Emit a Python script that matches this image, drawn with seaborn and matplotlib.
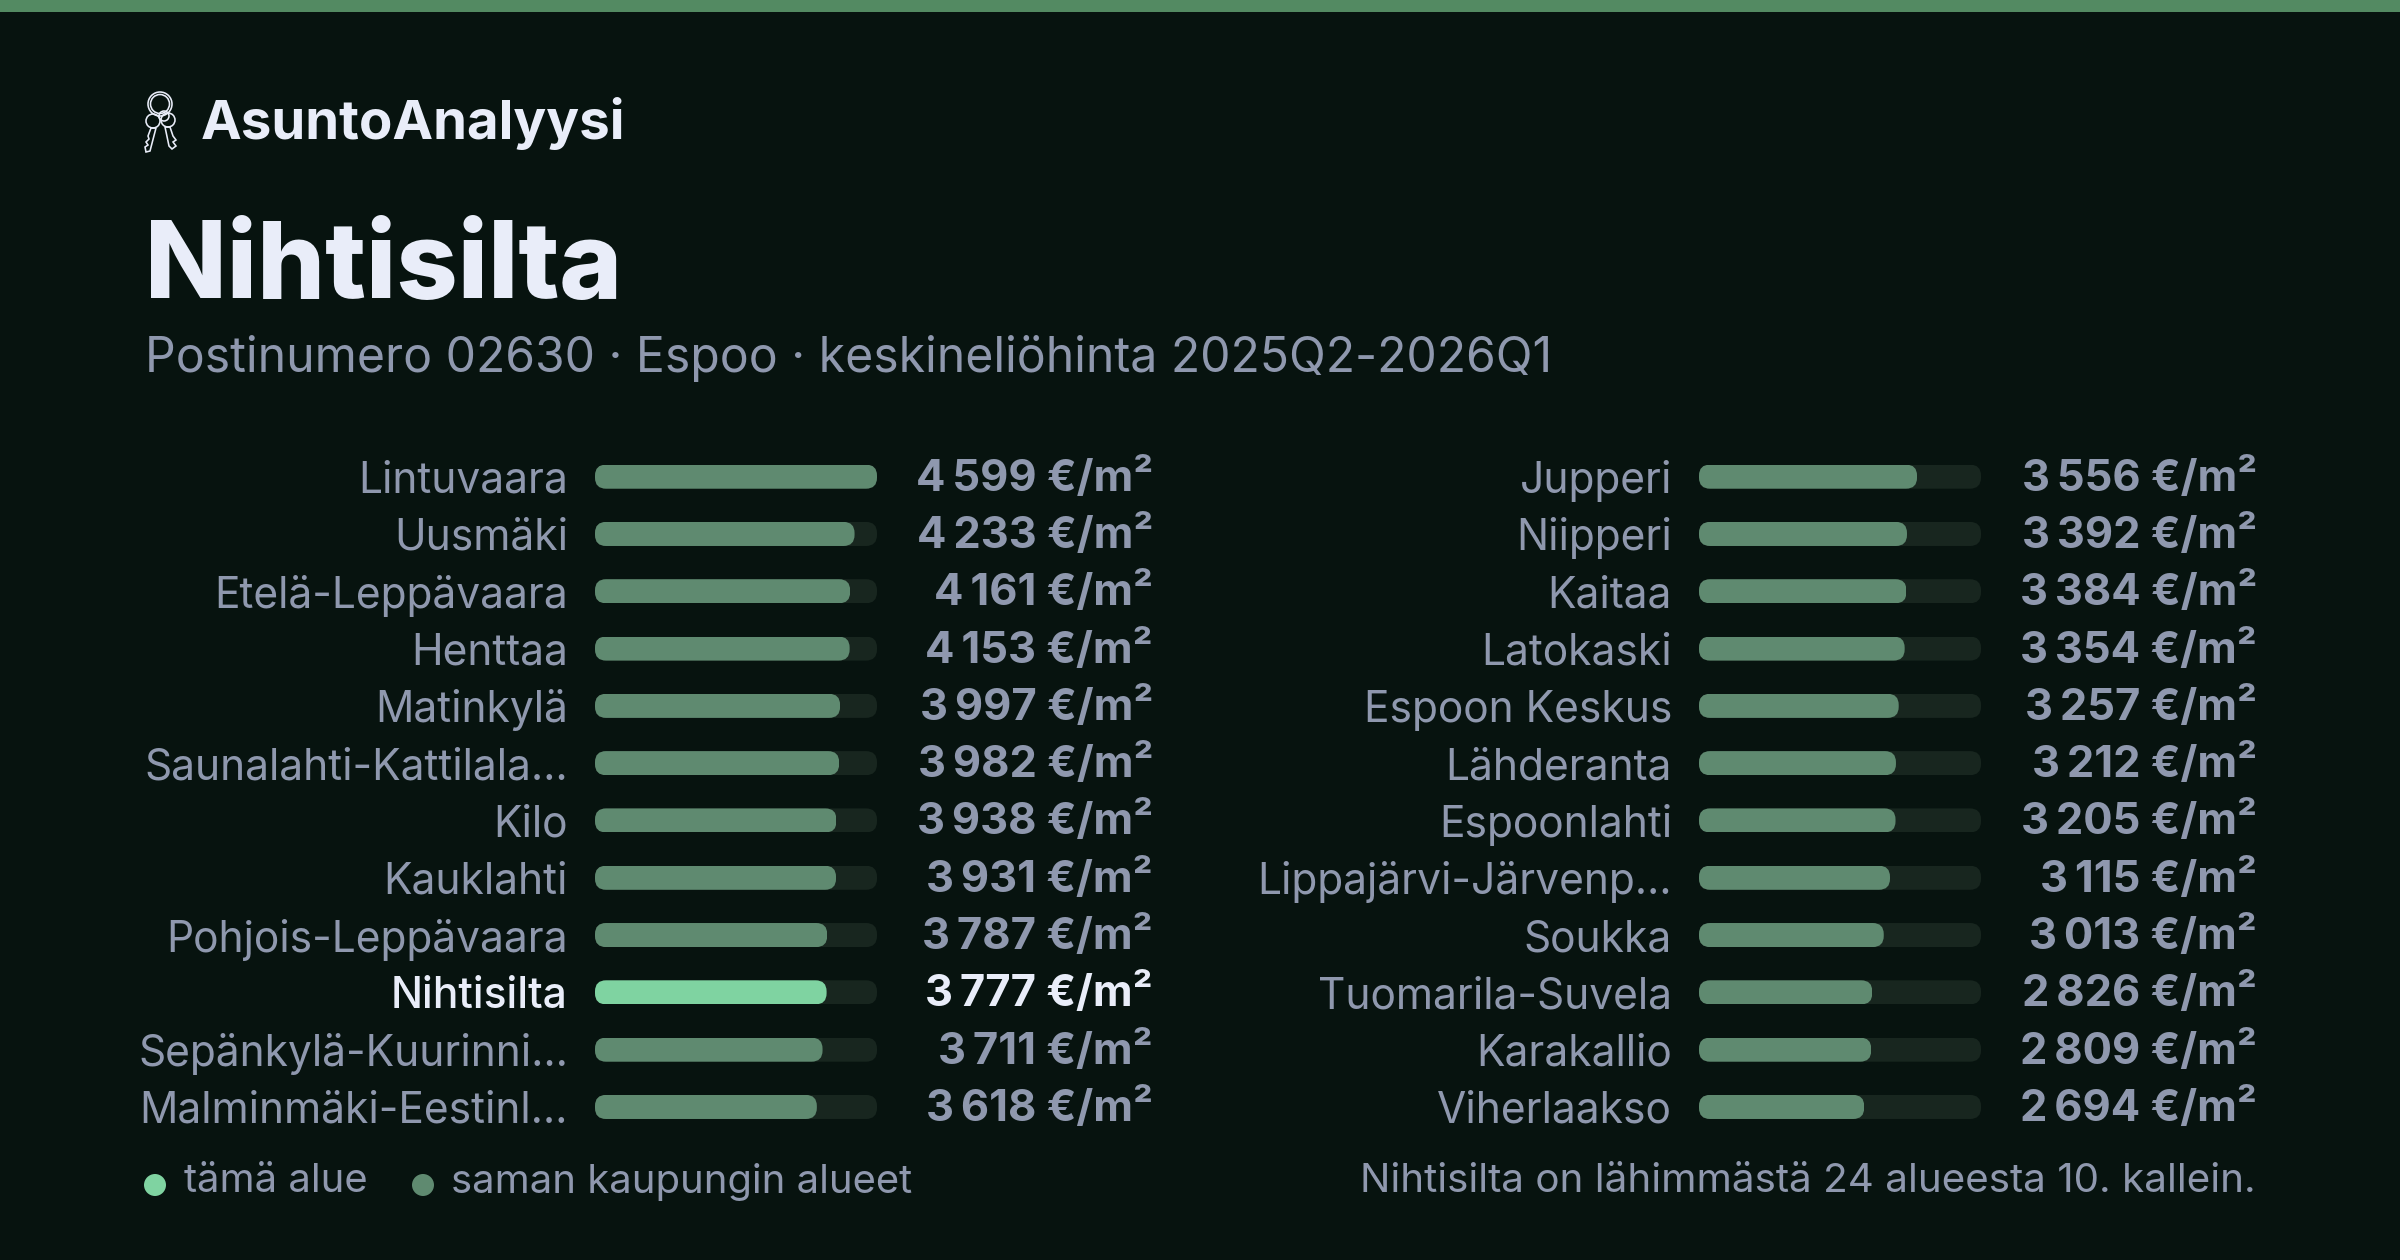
import matplotlib
matplotlib.use("Agg")
import matplotlib.pyplot as plt
import pandas as pd
import seaborn as sns
from matplotlib.patches import Circle, FancyBboxPatch, Polygon, Rectangle
from matplotlib.transforms import IdentityTransform

# left and right columns, most expensive first
left_names = ["Lintuvaara", "Uusmäki", "Etelä-Leppävaara", "Henttaa", "Matinkylä",
              "Saunalahti-Kattilala…", "Kilo", "Kauklahti", "Pohjois-Leppävaara",
              "Nihtisilta", "Sepänkylä-Kuurinni…", "Malminmäki-Eestinl…"]
left_prices = [4599, 4233, 4161, 4153, 3997, 3982, 3938, 3931, 3787, 3777, 3711, 3618]
right_names = ["Jupperi", "Niipperi", "Kaitaa", "Latokaski", "Espoon Keskus", "Lähderanta",
               "Espoonlahti", "Lippajärvi-Järvenp…", "Soukka", "Tuomarila-Suvela",
               "Karakallio", "Viherlaakso"]
right_prices = [3556, 3392, 3384, 3354, 3257, 3212, 3205, 3115, 3013, 2826, 2809, 2694]
this_area = "Nihtisilta"

BG = "#07130f"
TRACK = "#18261f"
BAR = "#5f8a70"
HILITE = "#7fd3a1"
TEXT = "#8f98ae"
WHITE = "#e9edf9"
STRIPE = "#538a62"
W, H = 2400, 1260
PX = 72 / 100  # px to pt at dpi 100

sns.set_theme(style="dark")
plt.rcParams["font.family"] = ["Inter", "DejaVu Sans"]

fig = plt.figure(figsize=(W / 100, H / 100), dpi=100, facecolor=BG)

# overlay in pixel coordinates for headings and legend
over = fig.add_axes([0, 0, 1, 1], zorder=5)
over.set_xlim(0, W)
over.set_ylim(H, 0)
over.axis("off")


def rows(names, prices, x0):
    """One column of pill bars, drawn against the shared 0..max price scale."""
    top = 448
    ax = fig.add_axes([x0 / W, 1 - (top + 687.6) / H, 282 / W, 687.6 / H])
    ax.set_facecolor("none")
    df = pd.DataFrame({"name": names, "price": prices})
    df["kind"] = ["this" if n == this_area else "other" for n in names]
    df["track"] = max(left_prices)
    sns.barplot(df, y="name", x="track", color=TRACK, width=0.42, saturation=1,
                linewidth=0, ax=ax)
    sns.barplot(df, y="name", x="price", hue="kind", palette={"this": HILITE, "other": BAR},
                hue_order=["other", "this"], dodge=False, width=0.42, saturation=1,
                linewidth=0, legend=False, ax=ax)
    ax.set_xlim(0, max(left_prices))
    ax.set_xlabel("")
    ax.set_ylabel("")
    ax.set_xticks([])
    ax.grid(False)
    sns.despine(ax=ax, left=True, bottom=True)
    ax.tick_params(axis="y", length=0, pad=27 * PX)
    for lab in ax.get_yticklabels():
        lab.set_fontsize(42.5 * PX)
        lab.set_color(WHITE if lab.get_text() == this_area else TEXT)
        lab.set_fontweight("medium" if lab.get_text() == this_area else "normal")
    fig.canvas.draw()
    # round the bar ends
    for bar in ax.patches:
        if bar.get_width() == 0:
            continue
        b = bar.get_window_extent()
        pill = FancyBboxPatch((b.x0 + 11, b.y0 + 11), b.width - 22, b.height - 22,
                              boxstyle="round,pad=11,rounding_size=11",
                              transform=IdentityTransform())
        bar.set_clip_path(pill)
    for y, (n, p) in enumerate(zip(names, prices)):
        txt = f"{p:,}".replace(",", "\u202f") + " €/m²"
        ax.annotate(txt, xy=(1, y), xycoords=("axes fraction", "data"),
                    xytext=(276 * PX, -2 * PX), textcoords="offset points",
                    ha="right", va="center", fontsize=43.5 * PX, fontweight="bold",
                    color=WHITE if n == this_area else TEXT)
    return ax


rows(left_names, left_prices, 595)
rows(right_names, right_prices, 1699)

over.add_patch(Rectangle((0, 0), W, 12, color=STRIPE, lw=0))

over.text(201, 124, "AsuntoAnalyysi", fontsize=54.6 * PX, fontweight="bold", color=WHITE,
          ha="left", va="center")
over.text(145, 270, "Nihtisilta", fontsize=107 * PX, fontweight="heavy", color=WHITE,
          ha="left", va="center")
over.text(145, 359, "Postinumero 02630 · Espoo · keskineliöhinta 2025Q2-2026Q1",
          fontsize=48.1 * PX, color=TEXT, ha="left", va="center")

# key icon
ic = dict(fill=False, edgecolor=WHITE, lw=1.6 * PX)
over.add_patch(Circle((160, 104), 12, **ic))
over.add_patch(Circle((160, 104), 9.5, **ic))
over.add_patch(Circle((164, 116), 5, **ic))
over.add_patch(Circle((153, 121), 7, **ic))
over.add_patch(Circle((168, 120), 7, **ic))
over.add_patch(Polygon([(151, 128), (156, 128), (150, 151), (146, 152), (145, 147), (148, 145),
                        (146, 142), (149, 139), (148, 136)], **ic))
over.add_patch(Polygon([(165, 127), (170, 127), (173, 136), (176, 140), (173, 142), (176, 146),
                        (172, 149), (169, 146)], **ic))

# legend row
over.scatter([155, 423], [1185, 1185], s=(22 * PX) ** 2, c=[HILITE, BAR], lw=0)
over.text(184, 1182, "tämä alue", fontsize=40 * PX, color=TEXT, ha="left", va="center")
over.text(451, 1182, "saman kaupungin alueet", fontsize=40 * PX, color=TEXT, ha="left", va="center")
over.text(2256, 1182, "Nihtisilta on lähimmästä 24 alueesta 10. kallein.", fontsize=40.4 * PX,
          color=TEXT, ha="right", va="center")

fig.savefig("out.png", dpi=100, facecolor=BG)
